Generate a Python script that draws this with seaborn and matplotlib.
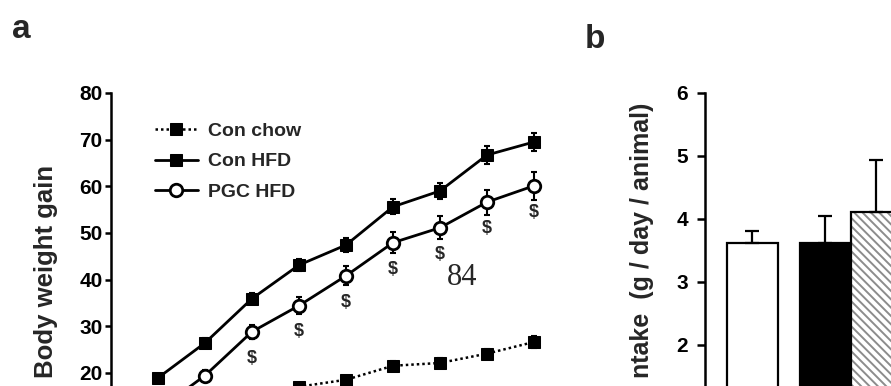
import numpy as np
import pandas as pd
import matplotlib
matplotlib.use("Agg")
import matplotlib.pyplot as plt
import seaborn as sns
from matplotlib.patches import Rectangle

# ---------------- data (panel a) ----------------
weeks = [1, 2, 3, 4, 5, 6, 7, 8, 9]
con_chow = [4.0, 8.0, 12.5, 17.0, 18.5, 21.5, 22.1, 24.1, 26.6]
con_chow_sem = [0.5, 0.6, 0.7, 0.8, 0.9, 1.0, 1.0, 1.1, 1.2]
con_hfd = [18.9, 26.4, 35.9, 43.1, 47.4, 55.6, 59.0, 66.7, 69.5]
con_hfd_sem = [0.8, 1.0, 1.2, 1.3, 1.5, 1.6, 1.8, 2.0, 2.0]
pgc_hfd = [12.0, 19.4, 28.8, 34.4, 40.8, 47.9, 51.1, 56.6, 60.1]
pgc_hfd_sem = [1.0, 1.2, 1.5, 1.8, 2.0, 2.3, 2.5, 2.7, 3.0]
pgc_sig = ["", "", "$", "$", "$", "$", "$", "$", "$"]
series_labels = ["Con chow", "Con HFD", "PGC HFD"]
a_yticks = [20, 30, 40, 50, 60, 70, 80]
a_ylabel = "Body weight gain"

# ---------------- data (panel b) ----------------
bar_groups = ["Con chow", "Con HFD", "PGC HFD"]
intake = [3.62, 3.62, 4.11]
intake_sem = [0.19, 0.43, 0.83]
b_yticks = [2, 3, 4, 5, 6]
b_ylabel = "ntake  (g / day / animal)"

# ---------------- layout ----------------
bar_slots = [0.0, 1.43, 2.43]

sns.set_theme(style="ticks")
plt.rcParams['font.family'] = ['Liberation Sans', 'DejaVu Sans']
plt.rcParams['font.weight'] = 'bold'
plt.rcParams['hatch.linewidth'] = 1.4

W, H = 891, 386
fig = plt.figure(figsize=(W / 100, H / 100), dpi=100)


def rect(l, r, t, b):
    return [l / W, 1 - b / H, (r - l) / W, (b - t) / H]


# ================= panel a =================
axa = fig.add_axes(rect(111, 560, 93, 466))

err_kw = dict(fmt='none', ecolor='black', elinewidth=1.5, capsize=2.5, capthick=1.5, zorder=1.5)
axa.errorbar(weeks, con_chow, yerr=con_chow_sem, **err_kw)
axa.errorbar(weeks, con_hfd, yerr=con_hfd_sem, **err_kw)
axa.errorbar(weeks, pgc_hfd, yerr=pgc_hfd_sem, **err_kw)

sns.lineplot(x=weeks, y=con_chow, ax=axa, color='black', marker='s', markersize=9,
             markerfacecolor='black', markeredgecolor='black', linewidth=1.8,
             linestyle=(0, (1, 1.2)), label=series_labels[0])
sns.lineplot(x=weeks, y=con_hfd, ax=axa, color='black', marker='s', markersize=9,
             markerfacecolor='black', markeredgecolor='black', linewidth=2.0,
             label=series_labels[1])
sns.lineplot(x=weeks, y=pgc_hfd, ax=axa, color='black', marker='o', markersize=9,
             markerfacecolor='white', markeredgecolor='black', markeredgewidth=2.0,
             linewidth=2.0, label=series_labels[2])

for xw, yv, s in zip(weeks, pgc_hfd, pgc_sig):
    if s:
        axa.annotate(s, (xw, yv), xytext=(0, -19), textcoords='offset points',
                     ha='center', va='center', fontsize=13, fontweight='bold',
                     parse_math=False)

axa.set_xlim(0, (560 - 111) / 47)
axa.set_ylim(0, 80)
axa.set_yticks(a_yticks)
axa.set_yticklabels([str(v) for v in a_yticks])
axa.set_xticks([])
axa.set_xlabel("")
axa.set_ylabel("")
sns.despine(ax=axa)
for sp in ['left', 'bottom']:
    axa.spines[sp].set_linewidth(1.8)
    axa.spines[sp].set_color('black')
axa.tick_params(axis='y', direction='out', length=4, width=1.8, labelsize=15, pad=2,
                colors='black')

leg = axa.legend(loc='upper left', bbox_to_anchor=(155 / W, 1 - 122 / H),
                 bbox_transform=fig.transFigure, frameon=False,
                 prop={'weight': 'bold', 'size': 14}, handlelength=2.2,
                 handletextpad=0.5, labelspacing=0.68, borderpad=0, borderaxespad=0)

# ================= panel b =================
axb = fig.add_axes(rect(705, 941, 93, 471))
df_b = pd.DataFrame({"group": bar_groups, "intake": intake, "slot": bar_slots})
sns.barplot(data=df_b, x="slot", y="intake", hue="group", native_scale=True,
            width=1.0, palette=['white', 'black', 'white'], saturation=1,
            edgecolor='black', linewidth=1.6, errorbar=None, legend=False,
            dodge=False, ax=axb)

patches = list(axb.patches)
hp = patches[2]
hp.set_facecolor('white')
hp.set_edgecolor('#8c8c8c')
hp.set_hatch('\\\\\\\\')
hp.set_linewidth(0)
axb.add_patch(Rectangle((hp.get_x(), hp.get_y()), hp.get_width(), hp.get_height(),
                        fill=False, edgecolor='black', linewidth=1.6, zorder=hp.get_zorder() + 0.1))

centers = [p.get_x() + p.get_width() / 2 for p in patches]
axb.errorbar(centers, intake, yerr=[np.zeros(len(intake)), intake_sem], fmt='none',
             ecolor='black', elinewidth=1.6, capsize=5, capthick=1.6, zorder=3)

axb.set_xlim(-0.93, -0.93 + (941 - 705) / 51)
axb.set_ylim(0, 6)
axb.set_yticks(b_yticks)
axb.set_yticklabels([str(v) for v in b_yticks])
axb.set_xticks([])
axb.set_xlabel("")
axb.set_ylabel("")
sns.despine(ax=axb)
for sp in ['left', 'bottom']:
    axb.spines[sp].set_linewidth(1.8)
    axb.spines[sp].set_color('black')
axb.tick_params(axis='y', direction='out', length=6, width=1.8, labelsize=15, pad=6,
                colors='black')

# ================= texts =================
fig.text(46 / W, 1 - 165 / H, a_ylabel, rotation=90, ha='center', va='top',
         fontsize=18.5, fontweight='bold')
fig.text(642 / W, 1 - 103 / H, b_ylabel, rotation=90,
         ha='center', va='top', fontsize=18, fontweight='bold')
fig.text(12 / W, 1 - 38 / H, "a", fontsize=24, fontweight='bold', ha='left', va='baseline')
fig.text(585 / W, 1 - 48 / H, "b", fontsize=24, fontweight='bold', ha='left', va='baseline')
fig.text(462 / W, 1 - 285 / H, "84", family=['Liberation Serif', 'DejaVu Serif'],
         fontweight='normal', fontsize=22, ha='center', va='baseline')

fig.savefig("out.png", dpi=100)
